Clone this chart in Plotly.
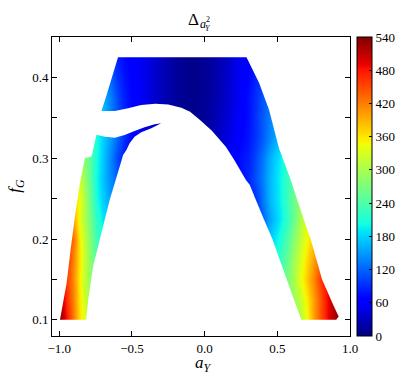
import plotly.graph_objects as go

N = None

# grid the colour was read on (aY across, fG up)
ay_grid = [-1.00, -0.95, -0.90, -0.85, -0.80, -0.75, -0.70, -0.65, -0.60, -0.55,
           -0.50, -0.45, -0.40, -0.35, -0.30, -0.25, -0.20, -0.15, -0.10, -0.05,
           0.00, 0.05, 0.10, 0.15, 0.20, 0.25, 0.30, 0.35, 0.40, 0.45,
           0.50, 0.55, 0.60, 0.65, 0.70, 0.75, 0.80, 0.85, 0.90, 0.95]
fg_grid = [0.100, 0.125, 0.150, 0.175, 0.200, 0.225, 0.250,
           0.275, 0.300, 0.325, 0.350, 0.375, 0.400, 0.425]

# Delta_{aY^2}, one row per fG value
delta_rows = [
    [540, 480, 420, 355, 310, 290, 280] + [N] * 24 + [255, 270, 295, 345, 400, 445, 495, 525, 540],
    [530, 465, 415, 350, 300, 280, 265] + [N] * 23 + [240, 255, 280, 310, 355, 400, 445, 495, 520, 540],
    [520, 455, 410, 345, 290, 262, 245, 230] + [N] * 21 + [215, 230, 255, 290, 330, 375, 415, 460, 490, 510] + [N],
    [515, 460, 415, 350, 290, 245, 215, 200] + [N] * 20 + [180, 195, 215, 245, 280, 320, 365, 400, 435, 460] + [N] * 2,
    [505, 460, 425, 345, 285, 235, 205, 185, 175] + [N] * 18 + [115, 140, 175, 200, 228, 265, 305, 345, 380, 400] + [N] * 3,
    [490, 440, 395, 330, 275, 225, 190, 170, 160, 150] + [N] * 16 + [80, 95, 120, 155, 182, 210, 245, 290, 340, 365] + [N] * 4,
    [455, 410, 375, 335, 270, 210, 178, 150, 140, 130, 120] + [N] * 14 + [70, 80, 95, 130, 165, 188, 215, 250, 280, 300, 310] + [N] * 4,
    [440, 400, 360, 315, 260, 205, 172, 140, 115, 100, 90] + [N] * 13 + [62, 75, 88, 110, 135, 165, 190, 215, 240, 255, 265] + [N] * 5,
    [N, 360, 330, 295, 255, 210, 175, 138, 103, 80, 70, 62] + [N] * 10 + [45, 55, 65, 75, 85, 105, 130, 160, 185, 210, 230, 240] + [N] * 6,
    [N] * 2 + [290, 270, 240, 210, 180, 150, 120, 90, 70, 55, 45, 35, 30, 26, 22, 18, 15, 15, 18, 25,
               35, 45, 55, 67, 78, 95, 115, 140, 165, 185, 200] + [N] * 7,
    [N] * 3 + [260, 230, 200, 170, 135, 105, 85, 70, 57, 47, 37, 28, 21, 15, 10, 8, 9, 12, 20, 30,
               40, 52, 62, 75, 95, 115, 135, 150, 165] + [N] * 8,
    [N] * 4 + [220, 195, 165, 135, 105, 82, 68, 58, 48, 38, 29, 21, 14, 9, 7, 8, 11, 18, 26, 36,
               48, 60, 75, 92, 112, 130, 145] + [N] * 9,
    [N] * 5 + [180, 150, 120, 92, 76, 65, 57, 48, 38, 29, 21, 14, 9, 6, 7, 10, 17, 25, 35, 46,
               58, 70, 85, 100, 115] + [N] * 10,
    [N] * 6 + [130, 105, 82, 70, 63, 55, 48, 40, 30, 21, 14, 9, 6, 7, 10, 16, 24, 33, 45, 57,
               66, 75, 85] + [N] * 11,
]

# outline of the left point cloud (clockwise)
left_ay = [-0.995, -0.949, -0.922, -0.892, -0.858, -0.824, -0.778, -0.744, -0.687, -0.618,
           -0.550, -0.482, -0.413, -0.344, -0.299, -0.367, -0.436, -0.482, -0.516, -0.538,
           -0.561, -0.584, -0.653, -0.710, -0.767, -0.801, -0.815]
left_fg = [0.100, 0.146, 0.187, 0.228, 0.269, 0.300, 0.302, 0.329, 0.3267, 0.3254,
           0.3288, 0.3337, 0.3383, 0.342, 0.3432, 0.337, 0.332, 0.3267, 0.3185, 0.3103,
           0.304, 0.2896, 0.2485, 0.2074, 0.1662, 0.125, 0.100]

# outline of the upper / right point cloud (clockwise)
top_ay = [-0.596, 0.288, 0.375, 0.443, 0.512, 0.592, 0.637, 0.683, 0.729, 0.808,
          0.888, 0.922, 0.905, 0.665, 0.615, 0.565, 0.466, 0.409, 0.352, 0.311,
          0.283, 0.203, 0.147, 0.050, -0.030, -0.100, -0.160, -0.250, -0.340, -0.436,
          -0.527, -0.618, -0.710, -0.675]
top_fg = [0.425, 0.425, 0.393, 0.360, 0.312, 0.2733, 0.2485, 0.224, 0.200, 0.150,
          0.117, 0.104, 0.100, 0.100, 0.125, 0.150, 0.200, 0.224, 0.2485, 0.267,
          0.2733, 0.298, 0.314, 0.334, 0.347, 0.3575, 0.3625, 0.3665, 0.3675, 0.3658,
          0.3617, 0.3584, 0.3584, 0.378]

cbar_ticks = [0, 60, 120, 180, 240, 300, 360, 420, 480, 540]

# matplotlib's jet
jet = [
    [0.0, "rgb(0,0,127)"], [0.11, "rgb(0,0,255)"], [0.125, "rgb(0,0,255)"],
    [0.34, "rgb(0,219,255)"], [0.35, "rgb(0,229,247)"], [0.375, "rgb(20,255,226)"],
    [0.64, "rgb(238,255,8)"], [0.65, "rgb(247,245,0)"], [0.66, "rgb(255,236,0)"],
    [0.89, "rgb(255,19,0)"], [0.91, "rgb(232,0,0)"], [1.0, "rgb(127,0,0)"],
]

font = "Liberation Serif"

fig = go.Figure()

fig.add_trace(go.Heatmap(
    x=ay_grid, y=fg_grid, z=delta_rows,
    zmin=0, zmax=540, colorscale=jet, zsmooth="best",
    hoverinfo="skip",
    colorbar=dict(
        x=1.023, xanchor="left", xpad=0, y=0.5, len=1.0, ypad=0,
        thickness=15, outlinecolor="black", outlinewidth=1,
        tickvals=cbar_ticks, ticks="inside", ticklen=3, tickcolor="black",
        tickfont=dict(family=font, size=13, color="black"),
    ),
))

# white cut-out around the two clouds (frame, then each cloud walked the other way)
frame_ay = [-1.1, -1.1, 1.05, 1.05, -1.1]
frame_fg = [0.46, 0.07, 0.07, 0.46, 0.46]
mask_x = frame_ay + top_ay + [top_ay[0], -1.1, -1.1] + left_ay + [left_ay[0], -1.1]
mask_y = frame_fg + top_fg + [top_fg[0], 0.46, 0.07] + left_fg + [left_fg[0], 0.07]
fig.add_trace(go.Scatter(
    x=mask_x, y=mask_y, mode="lines", fill="toself", fillcolor="white",
    line=dict(width=0, color="white", simplify=False),
    hoverinfo="skip", showlegend=False,
))

axis_style = dict(
    showline=True, linecolor="black", linewidth=1, mirror="ticks",
    ticks="inside", ticklen=5, tickcolor="black", showgrid=False, zeroline=False,
    automargin=False, tickfont=dict(family=font, size=13, color="black"),
)


def label(text, x, y, size, angle=0):
    fig.add_annotation(text=text, x=x, y=y, xref="paper", yref="paper",
                       xanchor="center", yanchor="middle", showarrow=False,
                       textangle=angle, font=dict(family=font, size=size, color="black"))


# title  Δ_{a_Y^2}
label("Δ", 0.4765, 1.060, 17)
label("<i>a</i>", 0.507, 1.043, 12)
label("2", 0.5235, 1.060, 8)
label("<i>Y</i>", 0.525, 1.030, 8)

# axis titles
label("<i>a</i><sub><i>Y</i></sub>", 0.510, -0.095, 17)
label("<i>f</i><sub><i>G</i></sub>", -0.121, 0.502, 17, angle=-90)

fig.update_layout(
    width=415, height=374,
    margin=dict(l=52, r=65, t=37, b=38, autoexpand=False),
    paper_bgcolor="white", plot_bgcolor="white",
    showlegend=False,
    xaxis=dict(axis_style, range=[-1.05, 1.0],
               tickvals=[-1.0, -0.5, 0.0, 0.5, 1.0], tickformat=".1f"),
    yaxis=dict(axis_style, range=[0.08, 0.45],
               tickvals=[0.1, 0.15, 0.2, 0.25, 0.3, 0.35, 0.4, 0.45],
               ticktext=["0.1", "", "0.2", "", "0.3", "", "0.4", ""]),
)

# the page's default body margin would push the figure 8px off the window corner
fig.write_html("out.html", config={"displayModeBar": False},
               post_script="document.body.style.margin = '0';")
